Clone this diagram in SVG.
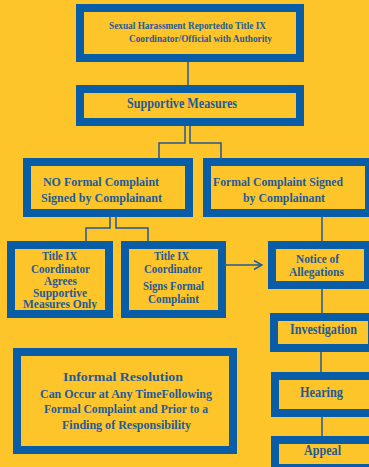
<svg xmlns="http://www.w3.org/2000/svg" width="369" height="467" viewBox="0 0 369 467">
<style>
.box{fill:#FDC52A;stroke:#085DA6;stroke-width:8}
.t{font-family:"Liberation Serif","Times New Roman",serif;font-weight:bold;fill:#1F5A99}
.conn{fill:none;stroke:#1F5A99;stroke-width:1.5}
</style>
<defs>
<marker id="arr" viewBox="0 0 10 10" refX="9" refY="5" markerWidth="10" markerHeight="10" markerUnits="userSpaceOnUse" orient="auto">
<path d="M1,0.5 L9,5 L1,9.5" fill="none" stroke="#1F5A99" stroke-width="1.5"/>
</marker>
</defs>
<rect width="369" height="467" fill="#FDC52A"/>
<g id="connectors">
<path class="conn" d="M188,61 V85"/>
<path class="conn" d="M185,126 V143 H159 V158"/>
<path class="conn" d="M190,126 V143 H221 V158"/>
<path class="conn" d="M110,217 V228 H86 V241"/>
<path class="conn" d="M116,217 V228 H148 V241"/>
<path class="conn" d="M322,217 V241"/>
<path class="conn" d="M226,265 H262" marker-end="url(#arr)"/>
<path class="conn" d="M322,289 V313"/>
<path class="conn" d="M321,352 V372"/>
<path class="conn" d="M322,417 V436"/>
</g>
<g id="n1"><rect class="box" x="80" y="8" width="220" height="50"/>
<text class="t" font-size="11" x="109" y="29" textLength="157" lengthAdjust="spacingAndGlyphs">Sexual Harassment Reportedto  Title IX</text>
<text class="t" font-size="11" x="129" y="42" textLength="143" lengthAdjust="spacingAndGlyphs">Coordinator/Official with Authority</text></g>
<g id="n2"><rect class="box" x="80" y="89" width="220" height="33"/>
<text class="t" font-size="14" x="127" y="108" textLength="110" lengthAdjust="spacingAndGlyphs">Supportive Measures</text></g>
<g id="n3"><rect class="box" x="27" y="162" width="162" height="51"/>
<text class="t" font-size="13" x="43" y="186" textLength="116" lengthAdjust="spacingAndGlyphs">NO Formal Complaint</text>
<text class="t" font-size="13" x="41" y="202" textLength="121" lengthAdjust="spacingAndGlyphs">Signed by Complainant</text></g>
<g id="n4"><rect class="box" x="207" y="162" width="162" height="51"/>
<text class="t" font-size="13" x="213" y="186" textLength="130" lengthAdjust="spacingAndGlyphs">Formal Complaint Signed</text>
<text class="t" font-size="13" x="243" y="202" textLength="82" lengthAdjust="spacingAndGlyphs">by Complainant</text></g>
<g id="n5"><rect class="box" x="11" y="245" width="98" height="69"/>
<text class="t" font-size="11.5" x="42" y="260" textLength="35" lengthAdjust="spacingAndGlyphs">Title IX</text>
<text class="t" font-size="11.5" x="31" y="273" textLength="59" lengthAdjust="spacingAndGlyphs">Coordinator</text>
<text class="t" font-size="11.5" x="44" y="285" textLength="33" lengthAdjust="spacingAndGlyphs">Agrees</text>
<text class="t" font-size="11.5" x="33" y="297" textLength="54" lengthAdjust="spacingAndGlyphs">Supportive</text>
<text class="t" font-size="11.5" x="23" y="308" textLength="74" lengthAdjust="spacingAndGlyphs">Measures Only</text></g>
<g id="n6"><rect class="box" x="125" y="245" width="97" height="69"/>
<text class="t" font-size="11.5" x="154" y="260" textLength="35" lengthAdjust="spacingAndGlyphs">Title IX</text>
<text class="t" font-size="11.5" x="144" y="273" textLength="58" lengthAdjust="spacingAndGlyphs">Coordinator</text>
<text class="t" font-size="11.5" x="143" y="290" textLength="61" lengthAdjust="spacingAndGlyphs">Signs Formal</text>
<text class="t" font-size="11.5" x="148" y="303" textLength="51" lengthAdjust="spacingAndGlyphs">Complaint</text></g>
<g id="n7"><rect class="box" x="272" y="245" width="96" height="40"/>
<text class="t" font-size="11.5" x="296" y="263" textLength="43" lengthAdjust="spacingAndGlyphs">Notice of</text>
<text class="t" font-size="11.5" x="289" y="276" textLength="55" lengthAdjust="spacingAndGlyphs">Allegations</text></g>
<g id="n8"><rect class="box" x="274" y="317" width="98" height="31"/>
<text class="t" font-size="14" x="290" y="334" textLength="67" lengthAdjust="spacingAndGlyphs">Investigation</text></g>
<g id="n9"><rect class="box" x="275" y="376" width="98" height="37"/>
<text class="t" font-size="14" x="300" y="397" textLength="43" lengthAdjust="spacingAndGlyphs">Hearing</text></g>
<g id="n10"><rect class="box" x="275" y="440" width="98" height="28"/>
<text class="t" font-size="14" x="304" y="455" textLength="37" lengthAdjust="spacingAndGlyphs">Appeal</text></g>
<g id="n11"><rect class="box" x="17" y="352" width="216" height="98"/>
<text class="t" font-size="13" x="63" y="381" textLength="120" lengthAdjust="spacingAndGlyphs">Informal Resolution</text>
<text class="t" font-size="12" x="40" y="398" textLength="172" lengthAdjust="spacingAndGlyphs">Can Occur at Any TimeFollowing</text>
<text class="t" font-size="12" x="44" y="413" textLength="164" lengthAdjust="spacingAndGlyphs">Formal Complaint and Prior to a</text>
<text class="t" font-size="12" x="62" y="429" textLength="129" lengthAdjust="spacingAndGlyphs">Finding of Responsibility</text></g>
</svg>
